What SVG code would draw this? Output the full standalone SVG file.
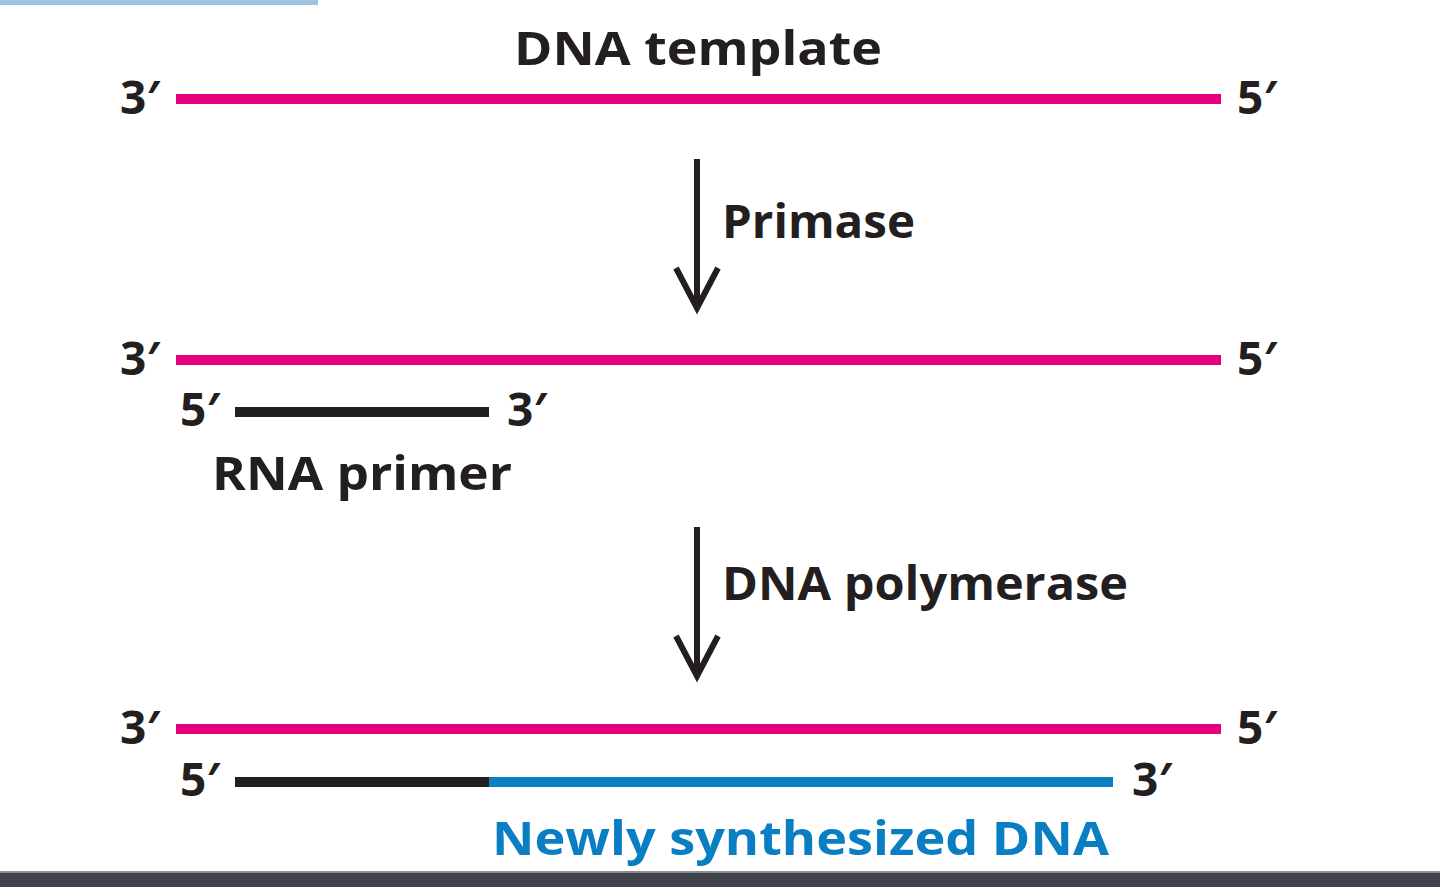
<svg xmlns="http://www.w3.org/2000/svg" width="1440" height="887" viewBox="0 0 1440 887">
<defs>
<style>
.t{font-family:"Open Sans","Liberation Sans",sans-serif;font-weight:700;font-size:46px;fill:#231f20}
.pink{stroke:#e6007e;stroke-width:10;stroke-linecap:butt}
.blk{stroke:#231f20;stroke-width:10}
.blue{stroke:#0a7ec2;stroke-width:10}
.arr{stroke:#231f20;stroke-width:6;fill:none}
</style>
</defs>
<rect width="1440" height="887" fill="#ffffff"/>
<rect x="0" y="0" width="318" height="5" fill="#9dc3e0"/>
<rect x="0" y="872" width="1440" height="15" fill="#3f4246"/>
<rect x="0" y="871" width="1440" height="2" fill="#8a8d90"/>

<g id="template1">
<text class="t" x="698" y="65" text-anchor="middle" textLength="368" lengthAdjust="spacingAndGlyphs">DNA template</text>
<text class="t" x="120" y="114">3′</text>
<line class="pink" x1="176" y1="99" x2="1221" y2="99"/>
<text class="t" x="1237" y="114">5′</text>
</g>

<g id="template2">
<text class="t" x="120" y="375">3′</text>
<line class="pink" x1="176" y1="360" x2="1221" y2="360"/>
<text class="t" x="1237" y="375">5′</text>
</g>

<g id="primer">
<text class="t" x="180" y="426">5′</text>
<line class="blk" x1="235" y1="412" x2="489" y2="412"/>
<text class="t" x="507" y="426">3′</text>
<text class="t" x="212" y="490" textLength="300" lengthAdjust="spacingAndGlyphs">RNA primer</text>
</g>

<g id="template3">
<text class="t" x="120" y="744">3′</text>
<line class="pink" x1="176" y1="729" x2="1221" y2="729"/>
<text class="t" x="1237" y="744">5′</text>
</g>

<g id="newdna">
<text class="t" x="180" y="796">5′</text>
<line class="blk" x1="235" y1="782" x2="489" y2="782"/>
<line class="blue" x1="489" y1="782" x2="1113" y2="782"/>
<text class="t" x="1132" y="796">3′</text>
<text class="t" x="492" y="855" style="fill:#0a7ec2" textLength="617" lengthAdjust="spacingAndGlyphs">Newly synthesized DNA</text>
</g>

<g id="connectors">
<line class="arr" x1="697" y1="159" x2="697" y2="308"/>
<polyline class="arr" points="676,268 697,308 718,268"/>
<text class="t" x="722" y="238" textLength="193" lengthAdjust="spacingAndGlyphs">Primase</text>
<line class="arr" x1="697" y1="527" x2="697" y2="676"/>
<polyline class="arr" points="676,636 697,676 718,636"/>
<text class="t" x="722" y="600" textLength="406" lengthAdjust="spacingAndGlyphs">DNA polymerase</text>
</g>
</svg>
